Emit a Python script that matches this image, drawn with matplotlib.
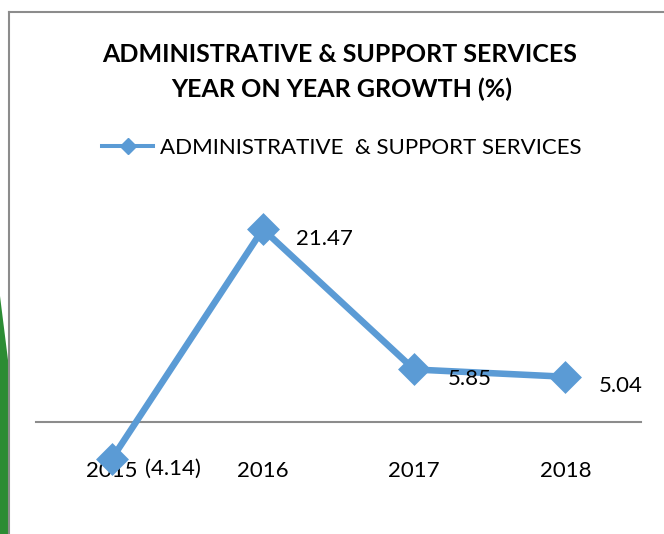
import matplotlib
matplotlib.use("Agg")
import matplotlib.pyplot as plt
from matplotlib.lines import Line2D
from matplotlib.patches import Polygon

plt.rcParams["font.family"] = ["Lato", "DejaVu Sans"]

# Year-on-year growth of administrative & support services (%)
years = ["2015", "2016", "2017", "2018"]
growth = [-4.14, 21.47, 5.85, 5.04]
series_name = "ADMINISTRATIVE  & SUPPORT SERVICES"
title_lines = ["ADMINISTRATIVE & SUPPORT SERVICES", "YEAR ON YEAR GROWTH (%)"]

W, H = 664, 534
fig = plt.figure(figsize=(W / 100, H / 100), dpi=100)
fig.patch.set_facecolor("white")


def fx(px):
    return px / W


def fy(py):
    return 1 - py / H


# plot area: zero line at y=422 px, 8.98 px per percentage point
ymin, ymax = -6, 24
scale = 8.98
zero_px = 422
top_px = zero_px - ymax * scale
bot_px = zero_px - ymin * scale
ax = fig.add_axes([fx(36), fy(bot_px), fx(641) - fx(36), (bot_px - top_px) / H])
ax.set_xlim(-0.5, len(years) - 0.5)
ax.set_ylim(ymin, ymax)
ax.patch.set_alpha(0)

blue = "#5B9BD5"
x = list(range(len(years)))
ax.plot(x, growth, color=blue, lw=4.7, marker="D", markersize=14,
        markerfacecolor=blue, markeredgecolor=blue, markeredgewidth=2.5,
        solid_joinstyle="round", zorder=3, clip_on=False)

for s in ["top", "left", "right"]:
    ax.spines[s].set_visible(False)
ax.spines["bottom"].set_position(("data", 0))
ax.spines["bottom"].set_color("#8c8c8c")
ax.spines["bottom"].set_linewidth(1.5)
ax.set_yticks([])
ax.set_xticks(x)
ax.set_xticklabels(years, fontsize=16, color="black")
ax.tick_params(axis="x", length=0, pad=28)


def fmt(v):
    return f"({abs(v):.2f})" if v < 0 else f"{v:.2f}"


for xi, v in zip(x, growth):
    ax.annotate(fmt(v), xy=(xi, v), xytext=(24, -11.2),
                textcoords="offset points", ha="left", va="baseline",
                fontsize=16, color="black", zorder=4)

# chart title
fig.text(fx(340), fy(62), title_lines[0], ha="center", va="baseline",
         fontsize=18, fontweight="bold", color="black")
fig.text(fx(342), fy(97), title_lines[1], ha="center", va="baseline",
         fontsize=18, fontweight="bold", color="black")

# legend
handle = Line2D([], [], color=blue, lw=2.9, marker="D", markersize=8,
                markerfacecolor=blue, markeredgecolor=blue)
fig.legend([handle], [series_name], loc="center left",
           bbox_to_anchor=(fx(102), fy(148)), frameon=False, fontsize=16,
           borderpad=0, borderaxespad=0, handlelength=2.3,
           handletextpad=0.3)

# chart frame and page edge decoration
fig.add_artist(Line2D([fx(9), fx(9)], [fy(12), 0], color="#8c8c8c",
                      lw=1.5, transform=fig.transFigure))
fig.add_artist(Line2D([fx(9), 1], [fy(12), fy(12)], color="#8c8c8c",
                      lw=1.5, transform=fig.transFigure))
fig.add_artist(Polygon([(0, fy(296)), (fx(8), fy(360)), (fx(8), 0), (0, 0)],
                       closed=True, facecolor="#2c8c34", edgecolor="none",
                       transform=fig.transFigure))

fig.savefig("out.png", dpi=100)
